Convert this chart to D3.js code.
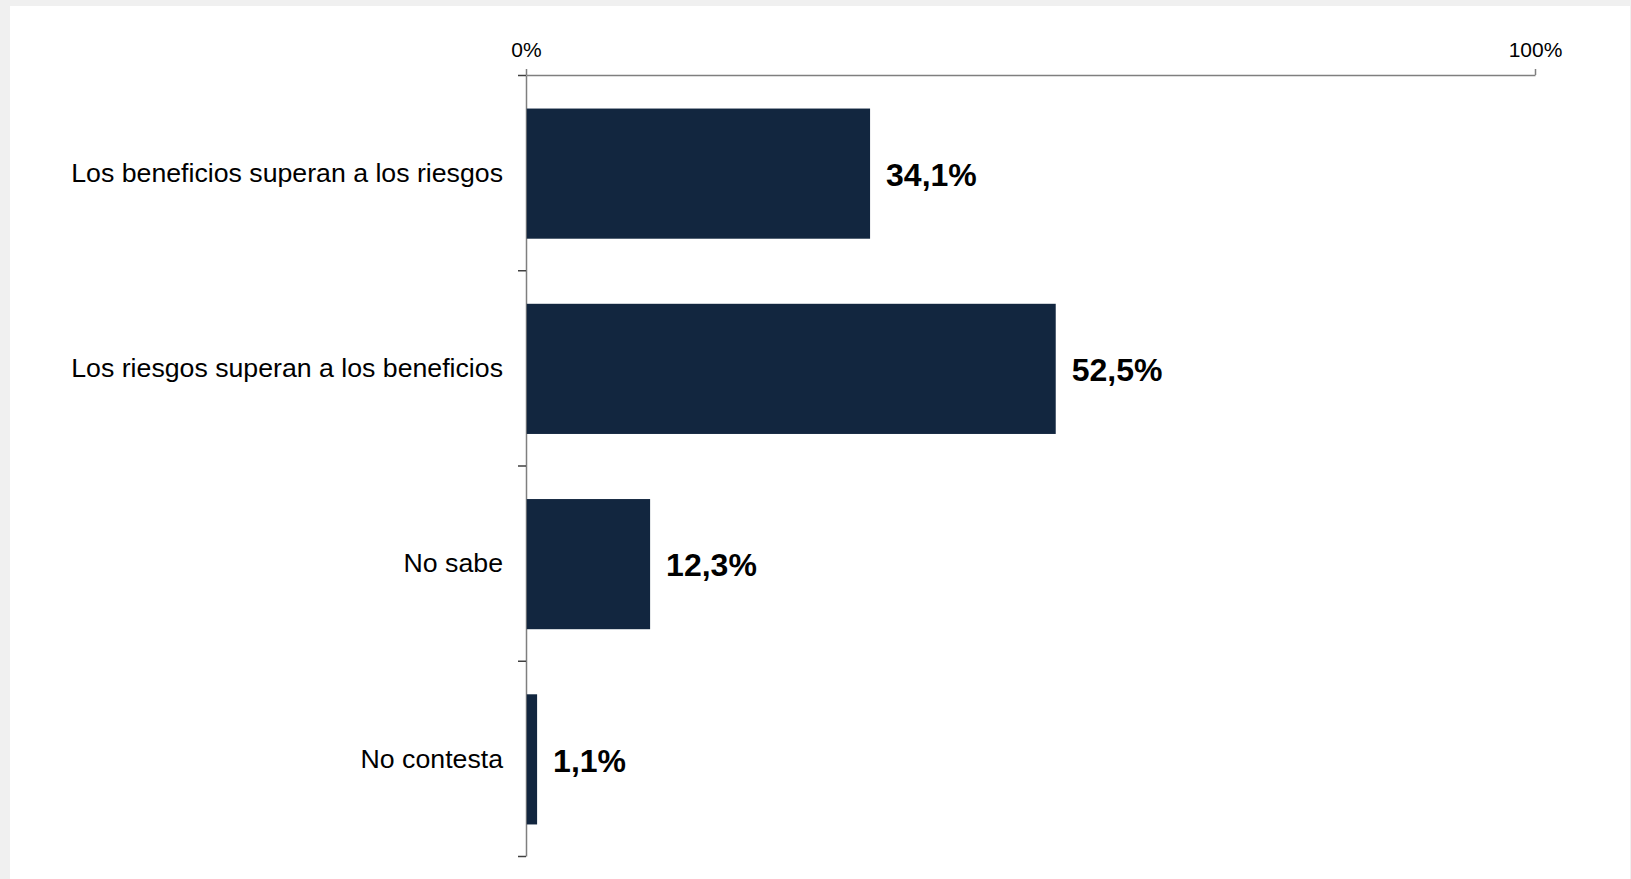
<!DOCTYPE html>
<html>
<head>
<meta charset="utf-8">
<script src="https://cdn.jsdelivr.net/npm/d3@7"></script>
<style>
  html, body { margin: 0; padding: 0; background: #f0f0f0; }
  svg { display: block; }
</style>
</head>
<body>
<svg id="chart" width="1631" height="879"></svg>
<script>
const categories = [
  "Los beneficios superan a los riesgos",
  "Los riesgos superan a los beneficios",
  "No sabe",
  "No contesta"
];
const values = [34.1, 52.5, 12.3, 1.1];
const valueLabels = ["34,1%", "52,5%", "12,3%", "1,1%"];
const xTickValues = [0, 100];

(function () {
const svg = d3.select("#chart");
const W = 1631, H = 879;

svg.append("rect").attr("x", 0).attr("y", 0).attr("width", W).attr("height", H).attr("fill", "#f0f0f0");
svg.append("rect").attr("x", 10).attr("y", 6).attr("width", W - 11).attr("height", H - 6).attr("fill", "#ffffff");

const mLeft = 526, mRight = 1535, mTop = 75, mBottom = 856;

const x = d3.scaleLinear().domain([0, 100]).range([mLeft, mRight]);
const y = d3.scaleBand().domain(categories).range([mTop + 1, mBottom + 1]).paddingInner(1/3).paddingOuter(1/6);
const yEdges = d3.scaleLinear().domain([0, categories.length]).range([mTop, mBottom]);

const font = "'Liberation Sans', Arial, Helvetica, sans-serif";
const axisColor = "#7f7f7f";

// Top axis
const xAxis = d3.axisTop(x)
  .tickValues(xTickValues)
  .tickSizeInner(6)
  .tickSizeOuter(0)
  .tickPadding(12)
  .tickFormat(d => d + "%");
const gx = svg.append("g").attr("transform", `translate(0,${mTop})`).call(xAxis);
gx.select(".domain").attr("stroke", axisColor).attr("stroke-width", 1.5);
gx.selectAll(".tick line").attr("stroke", axisColor).attr("stroke-width", 1.5);
gx.selectAll(".tick text").attr("fill", "#000").style("font-family", font).style("font-size", "21px");

// Left axis (ticks at category boundaries)
const yAxis = d3.axisLeft(yEdges)
  .tickValues(d3.range(categories.length + 1))
  .tickSizeInner(8)
  .tickSizeOuter(0)
  .tickFormat("");
const gy = svg.append("g").attr("transform", `translate(${mLeft},0)`).call(yAxis);
gy.select(".domain").attr("stroke", axisColor).attr("stroke-width", 1.5);
gy.selectAll(".tick line").attr("stroke", "#404040").attr("stroke-width", 1.5);

// Bars
svg.append("g").selectAll("rect")
  .data(categories)
  .join("rect")
  .attr("x", x(0) + 0.75)
  .attr("y", d => y(d))
  .attr("width", (d, i) => x(values[i]) - x(0) - 0.75)
  .attr("height", y.bandwidth())
  .attr("fill", "#12263f");

// Category labels
svg.append("g").selectAll("text")
  .data(categories)
  .join("text")
  .attr("x", 503)
  .attr("y", d => y(d) + y.bandwidth() / 2 - 1)
  .attr("dy", "0.35em")
  .attr("text-anchor", "end")
  .attr("fill", "#000")
  .style("font-family", font)
  .style("font-size", "26.7px")
  .text(d => d);

// Value labels
svg.append("g").selectAll("text")
  .data(categories)
  .join("text")
  .attr("x", (d, i) => x(values[i]) + 16)
  .attr("y", d => y(d) + y.bandwidth() / 2 + 1)
  .attr("dy", "0.35em")
  .attr("fill", "#000")
  .style("font-family", font)
  .style("font-size", "32px")
  .style("font-weight", "bold")
  .text((d, i) => valueLabels[i]);
})();
</script>
</body>
</html>
